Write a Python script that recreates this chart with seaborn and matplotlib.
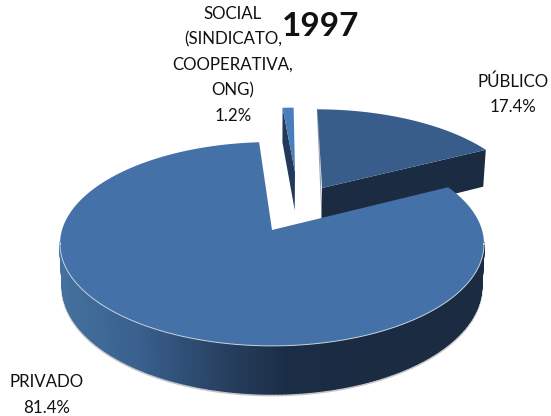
import numpy as np
import seaborn as sns
import matplotlib
matplotlib.use("Agg")
import matplotlib.pyplot as plt
from matplotlib.collections import PolyCollection

categories = ["PRIVADO", "PÚBLICO", "SOCIAL\n(SINDICATO,\nCOOPERATIVA,\nONG)"]
values = [81.4, 17.4, 1.2]
title = "1997"

sns.set_theme(style="white")
plt.rcParams["font.family"] = ["Lato", "DejaVu Sans"]

# look of the slices
top_colors = ["#4471a7", "#385d8a", "#4a7ebb"]
offsets = [(0, 0), (0.253, 0.446), (0.119, 0.63)]
radii = [1, 1, 0.84]
side_cmap = sns.blend_palette(["#44719f", "#3a6190", "#2a4568", "#1b2d46", "#1a2b42"], as_cmap=True)
# perspective of the fake 3d view (pixels)
CX, Y0, A, B, P, D = 272, 230, 210, 100, 0.137, 41.4


def project(u, v, z=0.0):
    w = 1 + P * v
    x = CX + A * u / w * (1 - 0.012 * z)
    y = Y0 - B * v / w + z * D / w
    return x, y


fig = plt.figure(figsize=(5.51, 4.16), dpi=100)
ax = fig.add_axes([0, 0, 1, 1])
wedges, _ = ax.pie(values, startangle=94, counterclock=True)
angles = [(w.theta1, w.theta2) for w in wedges]
for w in wedges:
    w.set_visible(False)
ax.set_aspect("auto")
ax.set_xlim(0, 551)
ax.set_ylim(416, 0)
ax.axis("off")


def rim(i, n=300):
    t = np.radians(np.linspace(angles[i][0], angles[i][1], n))
    return offsets[i][0] + radii[i] * np.cos(t), offsets[i][1] + radii[i] * np.sin(t)


def draw_slice(i, z0):
    u, v = rim(i)
    ox, oy = offsets[i]
    if i == 0:
        # outer wall of the big slice, only the front part shows
        front = v < -0.12
        xb, yb = project(u[front], v[front], 1)
        order = np.argsort(xb)
        ax.plot(xb[order], yb[order] + 1, color="#808080", alpha=0.45, lw=2.2, zorder=z0)
        quads, cols = [], []
        for k in np.where(front[:-1] & front[1:])[0]:
            x1, y1 = project(u[k], v[k])
            x2, y2 = project(u[k + 1], v[k + 1])
            x3, y3 = project(u[k + 1], v[k + 1], 1)
            x4, y4 = project(u[k], v[k], 1)
            quads.append([(x1, y1), (x2, y2), (x3, y3), (x4, y4)])
            cols.append(side_cmap((x1 - 59) / 300))
        ax.add_collection(PolyCollection(quads, facecolors=cols, edgecolors=cols, lw=1.2, zorder=z0 + 0.1))
    if i == 1:
        xa, ya = project(u[0], v[0])
        xb, yb = project(ox, oy)
        xc, yc = project(ox, oy, 1)
        xd, yd = project(u[0], v[0], 1)
        ax.fill([xa, xb, xc, xd], [ya, yb, yc, yd], color="#1b2b42", lw=0, zorder=z0 + 0.2)
        x_top, y_top = project(u[-1], v[-1])
        ax.plot([x_top, xb], [y_top, yb + 30], color="#9aa3ad", lw=0.8, zorder=z0)
    if i == 2:
        xa, ya = project(u[-1], v[-1])
        xb, yb = project(ox, oy)
        xc, yc = project(ox, oy, 1)
        xd, yd = project(u[-1], v[-1], 1)
        ax.fill([xa, xb, xc, xd], [ya, yb, yc, yd], color="#22395c", lw=0, zorder=z0 + 0.2)
    # top face
    xs, ys = project(np.r_[ox, u], np.r_[oy, v])
    ax.fill(xs, ys, color=top_colors[i], lw=0, zorder=z0 + 0.3)
    if i == 0:
        xr, yr = project(u[front], v[front])
        order = np.argsort(xr)
        ax.plot(xr[order], yr[order], color="#c9d3e0", lw=0.7, zorder=z0 + 0.4)


for i, z0 in zip([1, 2, 0], [1, 2, 3]):
    draw_slice(i, z0)

# labels
ax.text(233, 65, f"{categories[2]}\n{values[2]}%", ha="center", va="center", fontsize=12.2, linespacing=1.72, color="#111111", zorder=6)
ax.text(513, 94, f"{categories[1]}\n{values[1]}%", ha="center", va="center", fontsize=12.2, linespacing=1.72, color="#111111", zorder=6)
ax.text(47, 395, f"{categories[0]}\n{values[0]}%", ha="center", va="center", fontsize=12.2, linespacing=1.72, color="#111111", zorder=6)
ax.text(321, 27, title, ha="center", va="center", fontsize=24, fontweight="bold", color="#111111", zorder=7)

fig.savefig("out.png", dpi=100)
